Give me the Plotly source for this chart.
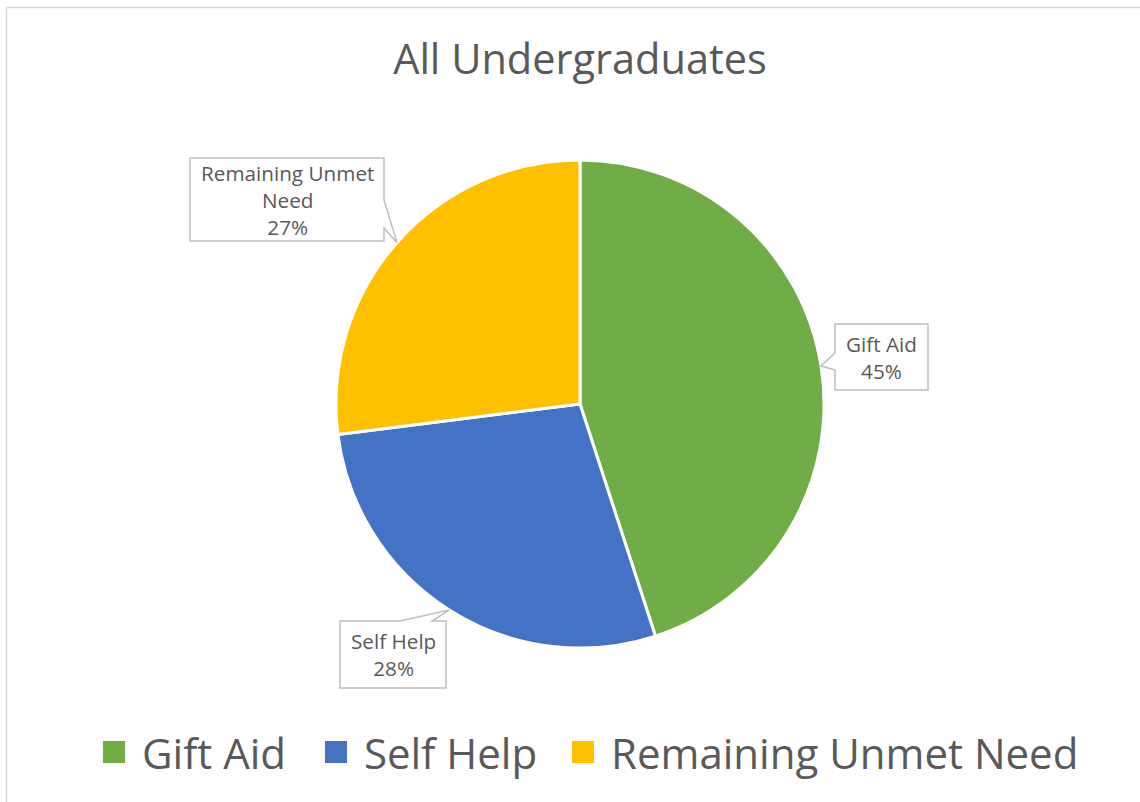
import math
import plotly.graph_objects as go

W, H = 1140, 802

labels = ["Gift Aid", "Self Help", "Remaining Unmet Need"]
values = [45, 28, 27]
colors = ["#70AD47", "#4472C4", "#FFC000"]
label_text = ["Gift Aid<br>45%", "Self Help<br>28%", "Remaining Unmet<br>Need<br>27%"]
title_text = "All Undergraduates"

TXT = "#595959"
FONT = "Open Sans"

# pie geometry (pixels)
CX, CY, R = 580, 404, 244


def px(x):
    return x / W


def py(y):
    return 1 - y / H


fig = go.Figure()
fig.add_trace(go.Pie(
    labels=labels, values=values, sort=False, direction="clockwise", rotation=0,
    marker=dict(colors=colors, line=dict(color="white", width=3)),
    textinfo="none", hoverinfo="label+percent", showlegend=False,
    domain=dict(x=[px(CX - R), px(CX + R)], y=[py(CY + R), py(CY - R)]),
))

# slice mid-angles from data (clockwise from 12 o'clock)
total = sum(values)
tips = []
acc = 0
for v in values:
    mid = (acc + v / 2) / total * 2 * math.pi
    tips.append((CX + R * math.sin(mid), CY - R * math.cos(mid)))
    acc += v

# callout boxes: (x0, y0, x1, y1), pointer side, base positions
boxes = [
    ((835, 324, 928, 390), "left", (353, 370)),
    ((340, 621, 446, 688), "top", (400, 432)),
    ((190, 158, 384, 241), "right", (200, 228)),
]

shapes = []
annotations = []
for (box, side, base), (tx, ty), txt in zip(boxes, tips, label_text):
    x0, y0, x1, y1 = box
    if side == "left":
        pts = [(x0, y0), (x1, y0), (x1, y1), (x0, y1), (x0, base[1]), (tx, ty), (x0, base[0])]
    elif side == "right":
        pts = [(x0, y0), (x1, y0), (x1, base[0]), (tx, ty), (x1, base[1]), (x1, y1), (x0, y1)]
    else:
        pts = [(x0, y0), (base[0], y0), (tx, ty), (base[1], y0), (x1, y0), (x1, y1), (x0, y1)]
    path = "M " + " L ".join(f"{px(a):.5f},{py(b):.5f}" for a, b in pts) + " Z"
    shapes.append(dict(type="path", path=path, xref="paper", yref="paper",
                       fillcolor="white", line=dict(color="#BFBFBF", width=1.5), layer="above"))
    annotations.append(dict(x=px((x0 + x1) / 2), y=py((y0 + y1) / 2), xref="paper", yref="paper",
                            text=txt, showarrow=False, xanchor="center", yanchor="middle",
                            font=dict(family=FONT, size=20.7, color=TXT)))

# chart border
shapes.append(dict(type="rect", xref="paper", yref="paper", x0=px(6.5), y0=py(820), x1=px(1160), y1=py(7.5),
                   line=dict(color="#D9D9D9", width=1.5), fillcolor="rgba(0,0,0,0)", layer="below"))

# manual legend
leg_sq = [103, 325, 572]
leg_tx = [140, 362, 609]
LY = 752
for c, sx, tx, lab in zip(colors, leg_sq, leg_tx, labels):
    shapes.append(dict(type="rect", xref="paper", yref="paper", x0=px(sx), x1=px(sx + 22),
                       y0=py(LY + 11), y1=py(LY - 11), fillcolor=c, line=dict(width=0)))
    annotations.append(dict(x=px(tx), y=py(LY), xref="paper", yref="paper", text=lab,
                            showarrow=False, xanchor="left", yanchor="middle",
                            font=dict(family=FONT, size=42, color=TXT)))

fig.update_layout(
    width=W, height=H, margin=dict(l=0, r=0, t=0, b=0),
    paper_bgcolor="white", plot_bgcolor="white",
    title=dict(text=title_text, x=px(580), y=py(59), xanchor="center", yanchor="middle",
               font=dict(family=FONT, size=41.5, color=TXT)),
    shapes=shapes, annotations=annotations,
)

fig.write_html("out.html")
